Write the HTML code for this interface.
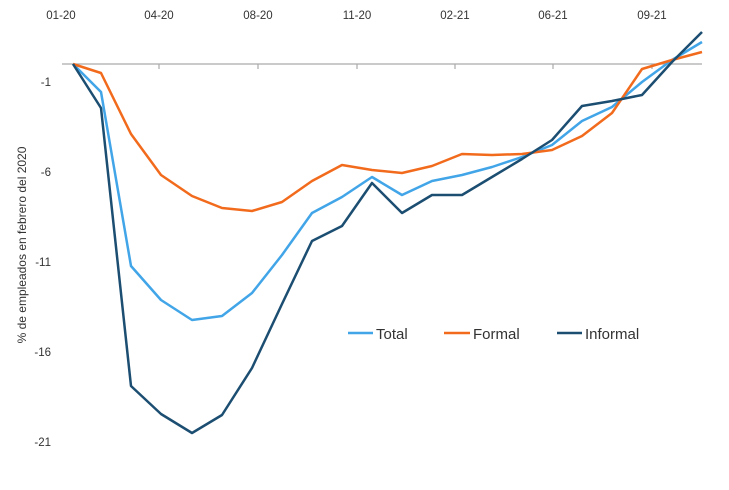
<!DOCTYPE html>
<html><head><meta charset="utf-8"><style>
html,body{margin:0;padding:0;background:#fff;}
svg{display:block;font-family:"Liberation Sans",sans-serif;}
</style></head><body>
<svg width="729" height="490" viewBox="0 0 729 490" xmlns="http://www.w3.org/2000/svg">
<g font-size="11.5" fill="#333" text-anchor="middle">
<text x="61" y="19">01-20</text><text x="159" y="19">04-20</text><text x="258" y="19">08-20</text><text x="357" y="19">11-20</text><text x="455" y="19">02-21</text><text x="553" y="19">06-21</text><text x="652" y="19">09-21</text>
</g>
<g font-size="11.5" fill="#333" text-anchor="end">
<text x="51" y="86">-1</text><text x="51" y="176">-6</text><text x="51" y="266">-11</text><text x="51" y="356">-16</text><text x="51" y="446">-21</text>
</g>
<text transform="translate(26,245) rotate(-90)" font-size="12" fill="#333" text-anchor="middle">% de empleados en febrero del 2020</text>
<line x1="62" y1="64" x2="702" y2="64" stroke="#aaa" stroke-width="1.2"/>
<g stroke="#aaa" stroke-width="1.2">
<line x1="159" y1="64" x2="159" y2="69"/><line x1="258" y1="64" x2="258" y2="69"/><line x1="357" y1="64" x2="357" y2="69"/><line x1="455" y1="64" x2="455" y2="69"/><line x1="553" y1="64" x2="553" y2="69"/><line x1="652" y1="64" x2="652" y2="69"/>
</g>
<g fill="none" stroke-width="2.5" stroke-linejoin="round">
<polyline stroke="#41a5e8" points="73,64 101,92 131,266 161,300 192,320 222,316 252,293 282,255 312,213 342,197 372,177 402,195 432,181 462,175 492,167 522,157 552,145 582,121 612,107 642,82 672,60 702,42"/>
<polyline stroke="#f26b1d" points="73,64 101,73 131,134 161,175 192,196 222,208 252,211 282,202 312,181 342,165 372,170 402,173 432,166 462,154 492,155 522,154 552,150 582,136 612,113 642,69 672,60 702,52"/>
<polyline stroke="#1c4e72" points="73,64 101,108 131,386 161,414 192,433 222,415 252,368 282,304 312,241 342,226 372,183 402,213 432,195 462,195 492,177 522,159 552,140 582,106 612,101 642,95 672,62 702,32"/>
</g>
<g font-size="15" fill="#333">
<line x1="348" y1="333" x2="373" y2="333" stroke="#41a5e8" stroke-width="2.5"/><text x="376" y="339">Total</text>
<line x1="444" y1="333" x2="470" y2="333" stroke="#f26b1d" stroke-width="2.5"/><text x="473" y="339">Formal</text>
<line x1="557" y1="333" x2="582" y2="333" stroke="#1c4e72" stroke-width="2.5"/><text x="585" y="339">Informal</text>
</g>
</svg>
</body></html>
